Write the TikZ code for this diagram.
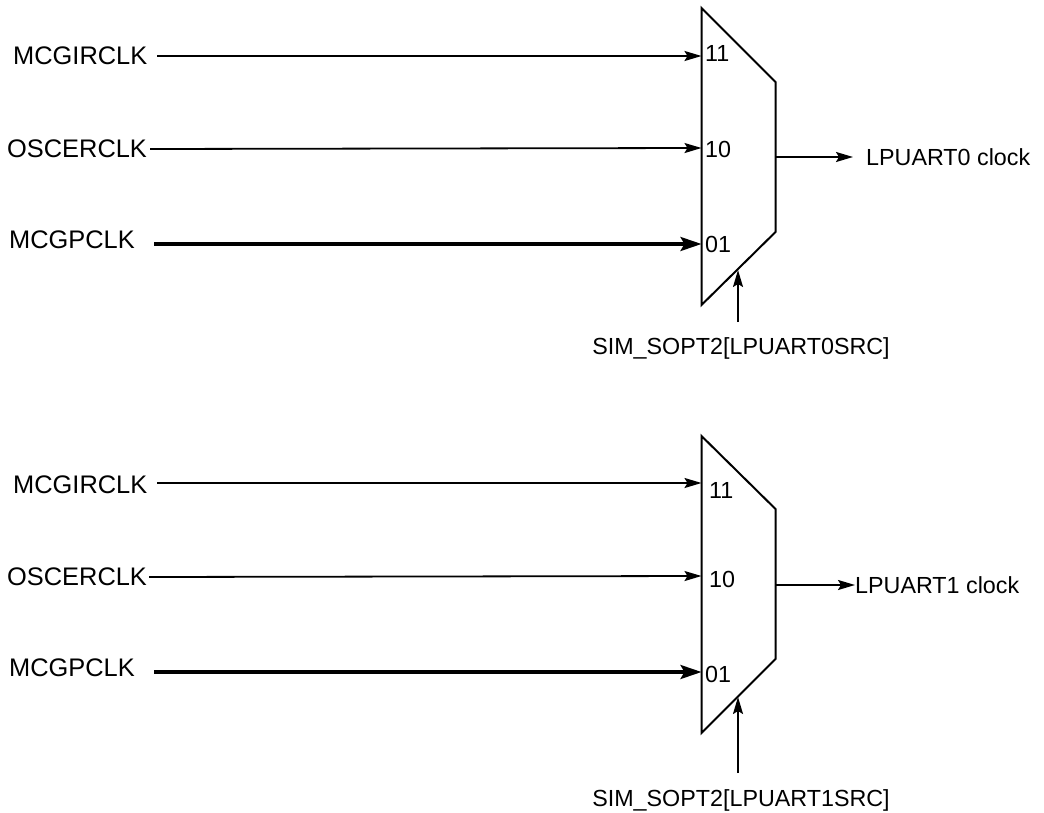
\documentclass[tikz,border=0pt]{standalone}
\usepackage{fontspec}
\setmainfont{Liberation Sans}
\usetikzlibrary{arrows.meta}
\begin{document}
\begin{tikzpicture}[x=1pt,y=-1pt,
  lbl/.style={inner sep=0pt,font=\fontsize{25.4}{30}\selectfont},
  olbl/.style={inner sep=0pt,font=\fontsize{23.3}{28}\selectfont},
  wire/.style={line width=1.8pt,-{Stealth[length=17pt,width=10pt,inset=3pt]}},
  thickwire/.style={line width=3.2pt,-{Stealth[length=21pt,width=14pt,inset=4pt]}},
  muxline/.style={line width=2pt,line join=miter}]
\useasboundingbox (0,0) rectangle (1044,813);
% ---------- top mux ----------
\coordinate (a1) at (701.5,8);
\coordinate (a2) at (775.5,82);
\coordinate (a3) at (775.5,232);
\coordinate (a4) at (701.5,305);
\draw[muxline] (a1) -- (a2) -- (a3) -- (a4) -- cycle;
\coordinate (ai11) at (701.5,56);
\coordinate (ai10) at (701.5,148);
\coordinate (ai01) at (701.5,244);
\coordinate (aout) at (775.5,157);
\coordinate (asel) at (738,270);
\coordinate (aselfoot) at (738,322);
\node[lbl,anchor=west] (aMCGIR) at (13,56) {MCGIRCLK};
\node[lbl,anchor=west] (aOSC) at (7,149) {OSCERCLK};
\node[lbl,anchor=west] (aMCGP) at (9,240) {MCGPCLK};
\node[olbl,anchor=west] (an11) at (705,53) {11};
\node[olbl,anchor=west] (an10) at (705,149) {10};
\node[olbl,anchor=west] (an01) at (705,244) {01};
\node[olbl,anchor=west] (aclk) at (866,157) {LPUART0 clock};
\node[olbl] (asellbl) at (741,348) {SIM\_SOPT2[LPUART0SRC]};
\draw[wire] (157,56) -- (ai11);
\draw[wire] (aOSC.east) ++(3,0) -- (ai10);
\draw[thickwire] (154,244) -- (ai01);
\draw[wire] (aout) -- (853,157);
\draw[wire] (aselfoot) -- (asel);
% ---------- bottom mux ----------
\coordinate (b1) at (701.5,436);
\coordinate (b2) at (775.5,509);
\coordinate (b3) at (775.5,659);
\coordinate (b4) at (701.5,733);
\draw[muxline] (b1) -- (b2) -- (b3) -- (b4) -- cycle;
\coordinate (bi11) at (701.5,483);
\coordinate (bi10) at (701.5,576);
\coordinate (bi01) at (701.5,672);
\coordinate (bout) at (775.5,585);
\coordinate (bsel) at (738,697);
\coordinate (bselfoot) at (738,773);
\node[lbl,anchor=west] (bMCGIR) at (13,485) {MCGIRCLK};
\node[lbl,anchor=west] (bOSC) at (7,577) {OSCERCLK};
\node[lbl,anchor=west] (bMCGP) at (9,668) {MCGPCLK};
\node[olbl,anchor=west] (bn11) at (709,490) {11};
\node[olbl,anchor=west] (bn10) at (709,579) {10};
\node[olbl,anchor=west] (bn01) at (705,674) {01};
\node[olbl,anchor=west] (bclk) at (855,585) {LPUART1 clock};
\node[olbl] (bsellbl) at (741,800) {SIM\_SOPT2[LPUART1SRC]};
\draw[wire] (157,483) -- (bi11);
\draw[wire] (bOSC.east) ++(2,0) -- (bi10);
\draw[thickwire] (154,672) -- (bi01);
\draw[wire] (bout) -- (bclk.west);
\draw[wire] (bselfoot) -- (bsel);
\end{tikzpicture}
\end{document}
